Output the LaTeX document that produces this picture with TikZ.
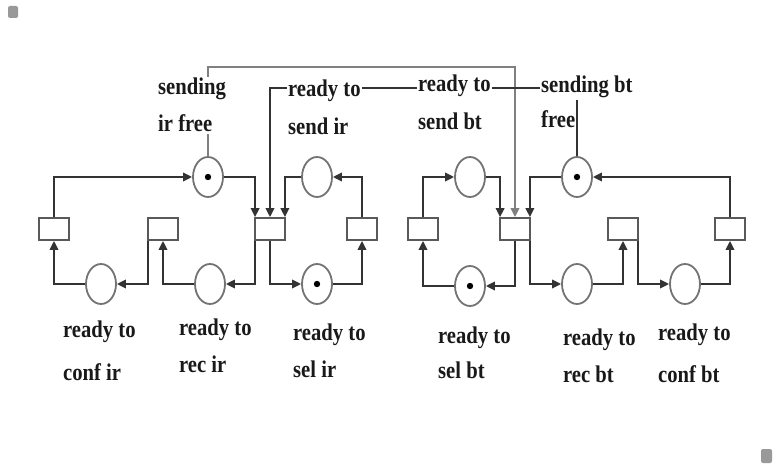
\documentclass[tikz,border=0pt]{standalone}
\usepackage{fontspec}
\setmainfont{Liberation Serif}[FakeStretch=0.86]
\usetikzlibrary{arrows.meta,shapes.geometric}
\begin{document}
\begin{tikzpicture}[x=1pt,y=-1pt,
  pl/.style={ellipse, draw=black!55, line width=1.8pt, minimum width=30pt, minimum height=40pt, inner sep=0pt, fill=white},
  tr/.style={rectangle, draw=black!65, line width=1.8pt, minimum width=30pt, minimum height=22pt, inner sep=0pt, fill=white},
  arc/.style={draw=black!80, line width=1.9pt, -{Triangle[length=9pt,width=8.5pt]}},
  lbl/.style={font=\fontsize{24}{28}\selectfont\bfseries, anchor=base west, fill=white, inner xsep=1pt, inner ysep=1.5pt, text=black!90},
  tok/.style={fill=black}]
\path[use as bounding box] (0,0) rectangle (774,468);
\fill[black!40, rounded corners=2pt] (8,6) rectangle (18,18);
\fill[black!40, rounded corners=2pt] (761,449) rectangle (772,463);
\coordinate (topA) at (0,67);
\coordinate (topB) at (0,88);
% transitions
\node[tr] (T1) at (54,229) {};
\node[tr] (T2) at (163,229) {};
\node[tr] (T3) at (270,229) {};
\node[tr] (T4) at (362,229) {};
\node[tr] (T5) at (423,229) {};
\node[tr] (T6) at (515,229) {};
\node[tr] (T7) at (623,229) {};
\node[tr] (T8) at (730,229) {};
% places
\node[pl] (Pconfir) at (101,284) {};
\node[pl] (Precir) at (210,284) {};
\node[pl] (Psif) at (208,177) {};
\node[pl] (Psendir) at (317,177) {};
\node[pl] (Pselir) at (317,284) {};
\node[pl] (Psendbt) at (470,177) {};
\node[pl] (Pselbt) at (470,286) {};
\node[pl] (Psbf) at (577,177) {};
\node[pl] (Precbt) at (577,284) {};
\node[pl] (Pconfbt) at (685,284) {};
% tokens
\fill[tok] (Psif) circle (3.2pt);
\fill[tok] (Pselir) circle (3.2pt);
\fill[tok] (Pselbt) circle (3.2pt);
\fill[tok] (Psbf) circle (3.2pt);
% left half arcs
\draw[arc] (Pconfir.west) -| (T1.south);
\draw[arc] (T1.north) |- (Psif.west);
\draw[arc] ([xshift=1pt]T2.south west) |- (Pconfir.east);
\draw[arc] (Precir.west) -| (T2.south);
\draw[arc] (Psif.east) -| ([xshift=1pt]T3.north west);
\draw[arc] (Psendir.west) -| ([xshift=-1pt]T3.north east);
\draw[arc] ([xshift=1pt]T3.south west) |- (Precir.east);
\draw[arc] (T3.south) |- (Pselir.west);
\draw[arc] (T4.north) |- (Psendir.east);
\draw[arc] (Pselir.east) -| (T4.south);
% right half arcs
\draw[arc] (Pselbt.west) -| (T5.south);
\draw[arc] (T5.north) |- (Psendbt.west);
\draw[arc] (Psendbt.east) -| ([xshift=1pt]T6.north west);
\draw[arc] (Psbf.west) -| ([xshift=-1pt]T6.north east);
\draw[arc] (T6.south) |- (Pselbt.east);
\draw[arc] ([xshift=-1pt]T6.south east) |- (Precbt.west);
\draw[arc] (Precbt.east) -| (T7.south);
\draw[arc] ([xshift=-1pt]T7.south east) |- (Pconfbt.west);
\draw[arc] (Pconfbt.east) -| (T8.south);
\draw[arc] (T8.north) |- (Psbf.east);
% long arcs
\draw[arc, draw=black!50] (Psif.north) |- (T6.north |- topA) -- (T6.north);
\draw[arc] (Psbf.north) |- (T3.north |- topB) -- (T3.north);
% labels
\node[lbl, text depth=20pt] (Lsif1) at (157,95) {sending};
\node[lbl] (Lsif2) at (157,132) {ir free};
\node[lbl] (Lsendir1) at (287,97) {ready to};
\node[lbl] (Lsendir2) at (287,135) {send ir};
\node[lbl] (Lsendbt1) at (417,92) {ready to};
\node[lbl] (Lsendbt2) at (417,130) {send bt};
\node[lbl] (Lsbf1) at (540,93) {sending bt};
\node[lbl] (Lsbf2) at (540,128) {free};
\node[lbl] (Lconfir1) at (62,337) {ready to};
\node[lbl] (Lconfir2) at (62,380) {conf ir};
\node[lbl] (Lrecir1) at (178,335) {ready to};
\node[lbl] (Lrecir2) at (178,372) {rec ir};
\node[lbl] (Lselir1) at (292,340) {ready to};
\node[lbl] (Lselir2) at (292,377) {sel ir};
\node[lbl] (Lselbt1) at (437,343) {ready to};
\node[lbl] (Lselbt2) at (437,378) {sel bt};
\node[lbl] (Lrecbt1) at (562,345) {ready to};
\node[lbl] (Lrecbt2) at (562,382) {rec bt};
\node[lbl] (Lconfbt1) at (657,340) {ready to};
\node[lbl] (Lconfbt2) at (657,382) {conf bt};
\end{tikzpicture}
\end{document}
